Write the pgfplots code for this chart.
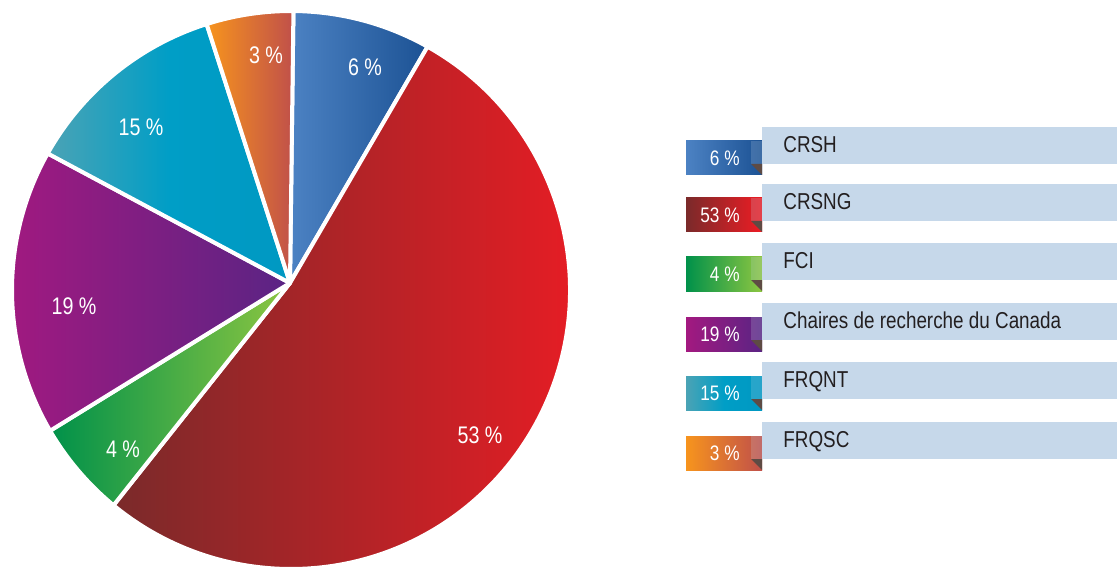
\documentclass[border=0pt]{standalone}
\usepackage{pgfplots}
\pgfplotsset{compat=1.18}
\usepackage{fontspec}
\setmainfont{Liberation Sans}[FakeStretch=0.82]

% slice colours (left -> right of each shading)
\definecolor{crshL}{RGB}{76,130,195}
\definecolor{crshR}{RGB}{28,82,148}
\definecolor{crsngL}{RGB}{122,42,42}
\definecolor{crsngR}{RGB}{237,28,36}
\definecolor{fciL}{RGB}{0,145,74}
\definecolor{fciR}{RGB}{141,198,65}
\definecolor{chL}{RGB}{163,25,128}
\definecolor{chR}{RGB}{90,36,132}
\definecolor{frqntL}{RGB}{75,163,181}
\definecolor{frqntM}{RGB}{0,158,198}
\definecolor{frqntR}{RGB}{0,152,194}
\definecolor{frqscL}{RGB}{247,148,29}
\definecolor{frqscR}{RGB}{192,80,74}
\definecolor{barblue}{RGB}{198,216,234}
\definecolor{fold}{RGB}{94,75,68}
\definecolor{labgray}{RGB}{35,31,32}

\tikzset{
  slice/.style={draw=white, line width=2pt, line join=round},
  pielab/.style={text=white, font=\fontsize{12}{14}\selectfont},
  boxlab/.style={anchor=east, inner sep=0pt, text=white, text height=0.72em, text depth=0pt, font=\fontsize{10.5}{12}\selectfont},
  leglab/.style={anchor=west, inner sep=0pt, text=labgray, text height=0.72em, text depth=0pt, font=\fontsize{11.5}{13}\selectfont},
}

\begin{document}
\begin{tikzpicture}
\begin{axis}[
  width=558.5pt,
  height=284pt,
  scale only axis,
  xmin=0, xmax=1117,
  ymin=0, ymax=568,
  hide axis,
]
% pie: apex (290,285), rim centre (291,278), r = 279 units (139.5pt)
\shadedraw[slice, left color=crshL, right color=crshR]
  (axis cs:290,285) -- (axis cs:{291+279*cos(89.5)},{278+279*sin(89.5)}) arc[start angle=89.5, end angle=60.7, radius=139.5pt] -- cycle;
\shadedraw[slice, left color=crsngL, right color=crsngR]
  (axis cs:290,285) -- (axis cs:{291+279*cos(60.7)},{278+279*sin(60.7)}) arc[start angle=60.7, end angle=-129.5, radius=139.5pt] -- cycle;
\shadedraw[slice, left color=fciL, right color=fciR]
  (axis cs:290,285) -- (axis cs:{291+279*cos(230.5)},{278+279*sin(230.5)}) arc[start angle=230.5, end angle=210.3, radius=139.5pt] -- cycle;
\shadedraw[slice, left color=chL, right color=chR]
  (axis cs:290,285) -- (axis cs:{291+279*cos(210.3)},{278+279*sin(210.3)}) arc[start angle=210.3, end angle=150.7, radius=139.5pt] -- cycle;
\shadedraw[slice, left color=frqntL, right color=frqntR, middle color=frqntM]
  (axis cs:290,285) -- (axis cs:{291+279*cos(150.7)},{278+279*sin(150.7)}) arc[start angle=150.7, end angle=107.6, radius=139.5pt] -- cycle;
\shadedraw[slice, left color=frqscL, right color=frqscR]
  (axis cs:290,285) -- (axis cs:{291+279*cos(107.6)},{278+279*sin(107.6)}) arc[start angle=107.6, end angle=89.5, radius=139.5pt] -- cycle;

\node[pielab] at (axis cs:365,501) {6 \%};
\node[pielab] at (axis cs:480,133) {53 \%};
\node[pielab] at (axis cs:123,119) {4 \%};
\node[pielab] at (axis cs:74,262) {19 \%};
\node[pielab] at (axis cs:141,441) {15 \%};
\node[pielab] at (axis cs:266,513) {3 \%};

% legend rows
% CRSH
\shade[left color=crshL, right color=crshR] (axis cs:686,393) rectangle (axis cs:762,427);
\fill[barblue] (axis cs:762,404) rectangle (axis cs:1117,441);
\fill[barblue, opacity=0.2] (axis cs:751,404) rectangle (axis cs:762,427);
\fill[fold] (axis cs:751,404) -- (axis cs:762,404) -- (axis cs:762,393) -- cycle;
\node[boxlab] at (axis cs:740,410) {6 \%};
\node[leglab] at (axis cs:783,422.5) {CRSH};
% CRSNG
\shade[left color=crsngL, right color=crsngR] (axis cs:686,336) rectangle (axis cs:762,370);
\fill[barblue] (axis cs:762,347) rectangle (axis cs:1117,384);
\fill[barblue, opacity=0.2] (axis cs:751,347) rectangle (axis cs:762,370);
\fill[fold] (axis cs:751,347) -- (axis cs:762,347) -- (axis cs:762,336) -- cycle;
\node[boxlab] at (axis cs:740,353) {53 \%};
\node[leglab] at (axis cs:783,365.5) {CRSNG};
% FCI
\shade[left color=fciL, right color=fciR] (axis cs:686,277) rectangle (axis cs:762,311);
\fill[barblue] (axis cs:762,288) rectangle (axis cs:1117,325);
\fill[barblue, opacity=0.2] (axis cs:751,288) rectangle (axis cs:762,311);
\fill[fold] (axis cs:751,288) -- (axis cs:762,288) -- (axis cs:762,277) -- cycle;
\node[boxlab] at (axis cs:740,294) {4 \%};
\node[leglab] at (axis cs:783,306.5) {FCI};
% Chaires
\shade[left color=chL, right color=chR] (axis cs:686,217) rectangle (axis cs:762,251);
\fill[barblue] (axis cs:762,228) rectangle (axis cs:1117,265);
\fill[barblue, opacity=0.2] (axis cs:751,228) rectangle (axis cs:762,251);
\fill[fold] (axis cs:751,228) -- (axis cs:762,228) -- (axis cs:762,217) -- cycle;
\node[boxlab] at (axis cs:740,234) {19 \%};
\node[leglab] at (axis cs:783,246.5) {Chaires de recherche du Canada};
% FRQNT
\shade[left color=frqntL, right color=frqntR, middle color=frqntM] (axis cs:686,158) rectangle (axis cs:762,192);
\fill[barblue] (axis cs:762,169) rectangle (axis cs:1117,206);
\fill[barblue, opacity=0.2] (axis cs:751,169) rectangle (axis cs:762,192);
\fill[fold] (axis cs:751,169) -- (axis cs:762,169) -- (axis cs:762,158) -- cycle;
\node[boxlab] at (axis cs:740,175) {15 \%};
\node[leglab] at (axis cs:783,187.5) {FRQNT};
% FRQSC
\shade[left color=frqscL, right color=frqscR] (axis cs:686,98) rectangle (axis cs:762,132);
\fill[barblue] (axis cs:762,109) rectangle (axis cs:1117,146);
\fill[barblue, opacity=0.2] (axis cs:751,109) rectangle (axis cs:762,132);
\fill[fold] (axis cs:751,109) -- (axis cs:762,109) -- (axis cs:762,98) -- cycle;
\node[boxlab] at (axis cs:740,115) {3 \%};
\node[leglab] at (axis cs:783,127.5) {FRQSC};
\end{axis}
\path (current axis.south west) rectangle (current axis.north east);
\end{tikzpicture}
\end{document}
